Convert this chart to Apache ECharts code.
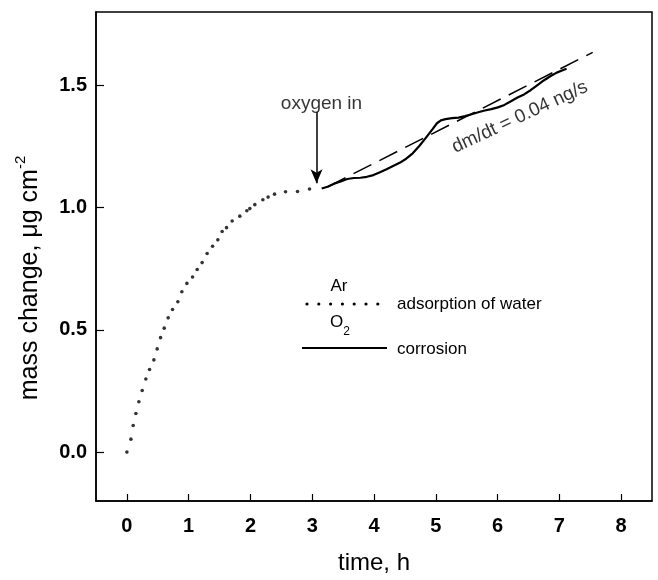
<!DOCTYPE html>
<html><head><meta charset="utf-8">
<script src="https://cdn.jsdelivr.net/npm/echarts@6/dist/echarts.min.js"></script>
<style>html,body{margin:0;padding:0;background:#fff}#c{width:658px;height:580px}</style>
</head><body><div id="c"></div>
<script>
// Ar (adsorption of water) – dotted
const arTime = [0.0,0.065,0.102,0.146,0.194,0.248,0.307,0.367,0.437,0.490,0.545,0.604,0.668,0.739,0.825,0.890,0.971,1.063,1.138,1.218,1.299,1.387,1.472,1.542,1.613,1.704,1.828,1.942,1.990,2.071,2.201,2.286,2.390,2.568,2.762,2.956];
const arMass = [0.0,0.053,0.109,0.158,0.206,0.252,0.299,0.338,0.377,0.422,0.468,0.507,0.549,0.583,0.615,0.656,0.690,0.716,0.747,0.775,0.812,0.842,0.868,0.902,0.918,0.945,0.965,0.987,0.996,1.012,1.032,1.043,1.055,1.065,1.066,1.076];
// O2 (corrosion) – solid
const o2Time = [3.153,3.249,3.355,3.461,3.567,3.673,3.779,3.885,3.991,4.097,4.203,4.309,4.415,4.521,4.627,4.733,4.839,4.945,5.019,5.083,5.157,5.263,5.369,5.475,5.581,5.687,5.793,5.899,6.005,6.111,6.217,6.323,6.429,6.535,6.641,6.747,6.853,6.958,7.033,7.117];
const o2Mass = [1.078,1.085,1.098,1.107,1.117,1.121,1.122,1.126,1.133,1.145,1.157,1.170,1.183,1.200,1.222,1.252,1.285,1.320,1.345,1.357,1.362,1.366,1.368,1.374,1.382,1.390,1.397,1.403,1.410,1.420,1.435,1.450,1.463,1.480,1.500,1.520,1.537,1.552,1.560,1.568];
// fitted slope line (dashed)
const fitTime = [3.25, 7.54];
const fitMass = [1.085, 1.635];
// ticks
const xTicks = [0,1,2,3,4,5,6,7,8];
const yTicks = [0,0.5,1.0,1.5];
// annotations
const arrowTime = 3.07, arrowFrom = 1.39, arrowTo = 1.10;
const oxygenLabel = {t: 3.15, m: 1.425, text: 'oxygen in'};
const slopeLabel = {t: 6.36, m: 1.37, text: 'dm/dt = 0.04 ng/s'};

const zip = (a,b) => a.map((v,i)=>[v,b[i]]);
const FF = '"Liberation Sans", Arial, sans-serif';

const chart = echarts.init(document.getElementById('c'), null, {renderer:'canvas'});
const axisCommon = {
  type:'value',
  splitLine:{show:false},
  axisLine:{show:true,onZero:false,lineStyle:{color:'#000',width:1.5}},
};
chart.setOption({
  animation:false,
  backgroundColor:'#fff',
  grid:{left:96,right:6,top:12,bottom:74,show:true,borderColor:'#000',borderWidth:1.5,backgroundColor:'transparent'},
  xAxis:Object.assign({}, axisCommon, {
    min:-0.5,max:8.5,
    name:'time, h',nameLocation:'middle',nameGap:50,
    nameTextStyle:{fontSize:24,color:'#000',fontFamily:FF},
    axisTick:{show:true,inside:true,length:7,customValues:xTicks,lineStyle:{color:'#000',width:1.2}},
    axisLabel:{customValues:xTicks,margin:15,fontSize:20,fontWeight:'bold',color:'#000',fontFamily:FF}
  }),
  yAxis:Object.assign({}, axisCommon, {
    min:-0.2,max:1.8,
    axisTick:{show:true,inside:true,length:8,customValues:yTicks,lineStyle:{color:'#000',width:1.2}},
    axisLabel:{customValues:yTicks,margin:9,fontSize:20,fontWeight:'bold',color:'#000',fontFamily:FF,
      formatter:v=>v.toFixed(1)}
  }),
  graphic:[
    {type:'text',x:28,y:278,rotation:Math.PI/2,style:{
      text:'{a|mass change, μg cm}{s|-2}',
      rich:{a:{fontSize:25,fontFamily:FF,fill:'#000',lineHeight:30,verticalAlign:'bottom'},
            s:{fontSize:15,fontFamily:FF,fill:'#000',lineHeight:30,verticalAlign:'top'}},
      align:'center',verticalAlign:'middle'}},
    // legend
    {type:'text',x:339,y:286,style:{text:'Ar',fontSize:17,fontFamily:FF,fill:'#000',align:'center',verticalAlign:'middle'}},
    {type:'group',children:[0,1,2,3,4,5,6].map(i=>({type:'circle',shape:{cx:307+i*11.8,cy:304,r:1.6},style:{fill:'#000'}}))},
    {type:'text',x:397,y:304,style:{text:'adsorption of water',fontSize:17,fontFamily:FF,fill:'#000',align:'left',verticalAlign:'middle'}},
    {type:'text',x:340,y:326,style:{text:'{o|O}{s|2}',
      rich:{o:{fontSize:17,fontFamily:FF,fill:'#000',lineHeight:24,verticalAlign:'top'},
            s:{fontSize:12,fontFamily:FF,fill:'#000',lineHeight:24,verticalAlign:'bottom'}},
      align:'center',verticalAlign:'middle'}},
    {type:'line',shape:{x1:302,y1:348,x2:387,y2:348},style:{stroke:'#000',lineWidth:2}},
    {type:'text',x:397,y:349,style:{text:'corrosion',fontSize:17,fontFamily:FF,fill:'#000',align:'left',verticalAlign:'middle'}}
  ],
  series:[
    {type:'scatter',data:zip(arTime,arMass),symbol:'circle',symbolSize:3.6,itemStyle:{color:'#000'},silent:true},
    {type:'line',data:zip(o2Time,o2Mass),showSymbol:false,symbol:'none',lineStyle:{color:'#000',width:2.2},silent:true,
      markLine:{silent:true,symbol:['none','arrow'],symbolSize:[9,14],label:{show:false},
        lineStyle:{color:'#000',width:1.5,type:'solid'},
        data:[[{coord:[arrowTime,arrowFrom]},{coord:[arrowTime,arrowTo]}]]}},
    {type:'line',data:zip(fitTime,fitMass),showSymbol:false,symbol:'none',lineStyle:{color:'#000',width:1.5,type:[20,9]},silent:true},
    {type:'scatter',symbolSize:0,silent:true,
      data:[[oxygenLabel.t,oxygenLabel.m]],
      label:{show:true,position:'inside',formatter:oxygenLabel.text,fontSize:19,fontFamily:FF,color:'#000'}},
    {type:'scatter',symbolSize:0,silent:true,
      data:[[slopeLabel.t,slopeLabel.m]],
      label:{show:true,position:'inside',rotate:25,formatter:slopeLabel.text,fontSize:19,fontFamily:FF,color:'#000'}}
  ]
});
</script></body></html>
